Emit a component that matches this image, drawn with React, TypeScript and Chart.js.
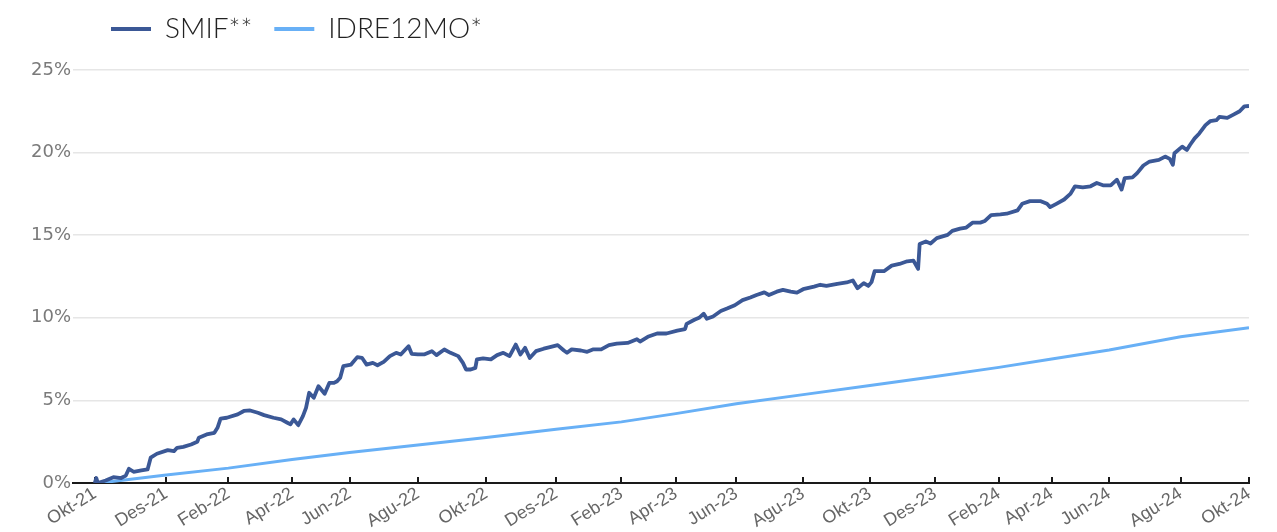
import React, { useEffect, useRef } from "react";
import { Chart, registerables } from "chart.js";

Chart.register(...registerables);

// x = trading-day index from Okt-21
const tickDays = [0, 46, 86, 127, 164, 208, 252, 297, 339, 374, 413, 456, 499, 541, 582, 616, 653, 699, 743];
const tickLabels = [
  "Okt-21", "Des-21", "Feb-22", "Apr-22", "Jun-22", "Agu-22", "Okt-22", "Des-22", "Feb-23", "Apr-23",
  "Jun-23", "Agu-23", "Okt-23", "Des-23", "Feb-24", "Apr-24", "Jun-24", "Agu-24", "Okt-24",
];

const smifDays = [
  0, 1, 2, 7, 12, 17, 20, 22, 25, 30, 34, 36, 40, 47, 51, 53, 57, 62, 66, 67, 72, 77, 79, 81, 85, 92, 96, 100,
  105, 109, 115, 120, 124, 126, 128, 131, 134, 136, 138, 141, 144, 148, 151, 154, 156, 158, 160, 165, 169, 172,
  175, 179, 182, 186, 190, 194, 197, 200, 202, 204, 208, 212, 217, 220, 225, 229, 234, 237, 239, 242, 245, 246,
  250, 255, 259, 263, 267, 271, 274, 277, 280, 284, 289, 293, 298, 302, 304, 307, 313, 317, 321, 326, 331, 336,
  343, 349, 351, 356, 362, 368, 375, 380, 381, 386, 389, 392, 394, 398, 403, 407, 412, 417, 422, 426, 431, 434,
  439, 443, 448, 452, 456, 463, 467, 471, 478, 484, 488, 491, 495, 498, 500, 502, 508, 513, 518, 523, 527, 530,
  531, 535, 538, 542, 549, 552, 557, 561, 565, 570, 573, 577, 583, 587, 594, 597, 602, 609, 613, 615, 619, 624,
  628, 631, 636, 641, 645, 649, 654, 658, 661, 663, 668, 671, 675, 679, 685, 689, 692, 694, 695, 700, 703, 705,
  708, 711, 715, 718, 722, 724, 729, 733, 737, 740, 743,
];
const smifValues = [
  0.0, 0.3, 0.0, 0.15, 0.35, 0.3, 0.45, 0.86, 0.68, 0.76, 0.82, 1.53, 1.77, 1.99, 1.93, 2.13, 2.19, 2.33, 2.5, 2.74,
  2.94, 3.04, 3.34, 3.9, 3.95, 4.15, 4.36, 4.39, 4.25, 4.11, 3.95, 3.85, 3.65, 3.55, 3.85, 3.5, 4.05, 4.55, 5.46,
  5.16, 5.86, 5.4, 6.06, 6.06, 6.16, 6.37, 7.07, 7.17, 7.62, 7.58, 7.17, 7.27, 7.13, 7.33, 7.68, 7.88, 7.78, 8.08,
  8.28, 7.82, 7.78, 7.78, 7.98, 7.74, 8.08, 7.88, 7.68, 7.27, 6.87, 6.87, 6.97, 7.48, 7.54, 7.48, 7.74, 7.88, 7.68,
  8.38, 7.78, 8.18, 7.57, 7.98, 8.13, 8.23, 8.35, 8.02, 7.88, 8.09, 8.02, 7.94, 8.09, 8.09, 8.35, 8.44, 8.48, 8.7,
  8.56, 8.85, 9.05, 9.05, 9.22, 9.32, 9.63, 9.88, 10.0, 10.25, 9.94, 10.08, 10.41, 10.56, 10.76, 11.07, 11.23,
  11.38, 11.54, 11.38, 11.58, 11.69, 11.58, 11.52, 11.73, 11.89, 12.0, 11.93, 12.06, 12.14, 12.26, 11.79, 12.1,
  11.93, 12.16, 12.82, 12.82, 13.16, 13.26, 13.42, 13.46, 12.96, 14.46, 14.62, 14.5, 14.82, 15.02, 15.26, 15.4,
  15.46, 15.76, 15.76, 15.86, 16.22, 16.26, 16.3, 16.5, 16.9, 17.06, 17.06, 16.9, 16.7, 16.9, 17.16, 17.5, 17.96,
  17.9, 17.96, 18.16, 18.02, 18.02, 18.36, 17.76, 18.46, 18.5, 18.76, 19.22, 19.46, 19.56, 19.76, 19.62, 19.26,
  19.96, 20.36, 20.16, 20.46, 20.86, 21.16, 21.66, 21.9, 21.96, 22.16, 22.1, 22.3, 22.5, 22.8, 22.82,
];

const idreDays = [3, 46, 86, 127, 164, 208, 252, 297, 339, 374, 413, 456, 499, 541, 582, 616, 653, 699, 743];
const idreValues = [0, 0.48, 0.9, 1.42, 1.85, 2.3, 2.75, 3.25, 3.7, 4.2, 4.8, 5.35, 5.9, 6.45, 7.0, 7.5, 8.05, 8.85, 9.4];

const yTicks = [0, 5, 10, 15, 20, 25];

const SMIF_COLOR = "#3b5896";
const IDRE_COLOR = "#68b0f6";

const LEGEND_FONT = 28;
const LEGEND_PAD = 22;

const legendShift = {
  id: "legendShift",
  afterLayout(chart: any) {
    const lg = chart.legend;
    if (!lg) return;
    const dx = 111 - LEGEND_PAD - lg.left;
    const dy = 29 - (lg.top + LEGEND_PAD + LEGEND_FONT / 2);
    lg.left += dx;
    lg.right += dx;
    lg.top += dy;
    lg.bottom += dy;
  },
};

export default function App() {
  const ref = useRef<HTMLCanvasElement | null>(null);
  useEffect(() => {
    if (!ref.current) return;
    const chart = new Chart(ref.current, {
      type: "line",
      data: {
        datasets: [
          {
            label: "SMIF**",
            data: smifDays.map((d, i) => ({ x: d, y: smifValues[i] })),
            borderColor: SMIF_COLOR,
            backgroundColor: SMIF_COLOR,
            borderWidth: 3.8,
            pointRadius: 0,
            tension: 0,
            borderJoinStyle: "round",
          },
          {
            label: "IDRE12MO*",
            data: idreDays.map((d, i) => ({ x: d, y: idreValues[i] })),
            borderColor: IDRE_COLOR,
            backgroundColor: IDRE_COLOR,
            borderWidth: 3,
            pointRadius: 0,
            tension: 0,
          },
        ],
      },
      options: {
        animation: false,
        responsive: true,
        maintainAspectRatio: false,
        layout: { padding: { top: 10, right: 28, bottom: 0, left: 0 } },
        plugins: {
          tooltip: { enabled: false },
          legend: {
            position: "top",
            align: "start",
            labels: {
              boxWidth: 40,
              boxHeight: 4,
              padding: LEGEND_PAD,
              color: "#222",
              font: { family: "Lato", size: LEGEND_FONT, weight: "300" },
              generateLabels: (c: any) =>
                (Chart.defaults.plugins.legend.labels.generateLabels as any)(c).map((it: any) => ({ ...it, lineWidth: 0 })),
            },
          },
        },
        scales: {
          x: {
            type: "linear",
            min: -14,
            max: 743,
            afterFit: (s: any) => {
              s.height = 49;
            },
            afterBuildTicks: (s: any) => {
              s.ticks = tickDays.map((v) => ({ value: v }));
            },
            grid: {
              display: true,
              drawOnChartArea: false,
              drawTicks: true,
              tickLength: -6,
              tickColor: "#1a1a1a",
              tickWidth: 2,
              lineWidth: 2,
            },
            border: { display: true, color: "#1a1a1a", width: 2 },
            ticks: {
              autoSkip: false,
              minRotation: 32,
              maxRotation: 32,
              padding: 6,
              color: "#666",
              font: { family: "Liberation Sans", size: 18 },
              callback: (v: any) => {
                const i = tickDays.indexOf(Number(v));
                return i >= 0 ? tickLabels[i] : "";
              },
            },
          },
          y: {
            min: 0,
            max: 25,
            afterFit: (s: any) => {
              s.width = 73;
            },
            afterBuildTicks: (s: any) => {
              s.ticks = yTicks.map((v) => ({ value: v }));
            },
            grid: { color: "#e6e6e6", lineWidth: 1.5, drawTicks: false },
            border: { display: false },
            ticks: {
              padding: 2,
              color: "#7a7a7a",
              font: { family: "DejaVu Sans", size: 18 },
              callback: (v: any) => v + "%",
            },
          },
        },
      },
      plugins: [legendShift],
    });
    return () => chart.destroy();
  }, []);
  return (
    <div style={{ position: "fixed", left: 0, top: 0, width: 1277, height: 532, background: "#fff" }}>
      <canvas ref={ref} />
    </div>
  );
}
